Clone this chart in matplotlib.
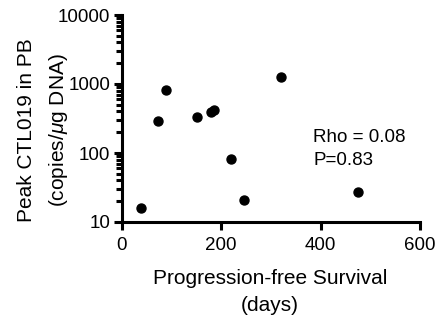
import matplotlib
matplotlib.use('Agg')
import matplotlib.pyplot as plt
from matplotlib.ticker import LogLocator, NullFormatter, FixedLocator

plt.rcParams['font.family'] = ['Liberation Sans', 'DejaVu Sans']
plt.rcParams['mathtext.fontset'] = 'custom'
plt.rcParams['mathtext.it'] = 'Liberation Sans:italic'
plt.rcParams['mathtext.rm'] = 'Liberation Sans'

# progression-free survival (days) vs peak CTL019 (copies/ug DNA)
pfs_days = [40, 74, 90, 152, 179, 186, 321, 221, 247, 476]
peak_ctl019 = [16, 288, 811, 332, 397, 415, 1263, 81, 21, 27.5]

x_ticks = [0, 200, 400, 600]
y_ticks = [10, 100, 1000, 10000]

fig = plt.figure(figsize=(4.44, 3.22), dpi=100)
ax = fig.add_axes([121.5 / 444, 1 - 222 / 322, (420 - 121.5) / 444, (222 - 15) / 322])

ax.scatter(pfs_days, peak_ctl019, s=42, color='black', zorder=3, clip_on=False)

ax.set_yscale('log')
ax.set_xlim(0, 600)
ax.set_ylim(10, 10000)
ax.xaxis.set_major_locator(FixedLocator(x_ticks))
ax.yaxis.set_major_locator(FixedLocator(y_ticks))
ax.set_yticklabels([str(v) for v in y_ticks])
ax.yaxis.set_minor_locator(LogLocator(base=10, subs=range(2, 10)))
ax.yaxis.set_minor_formatter(NullFormatter())

for s in ['top', 'right']:
    ax.spines[s].set_visible(False)
for s in ['left', 'bottom']:
    ax.spines[s].set_linewidth(2.2)

ax.tick_params(axis='both', which='major', length=6, width=2.2, labelsize=13.5)
ax.tick_params(axis='x', which='major', pad=5)
ax.tick_params(axis='y', which='major', pad=2)
ax.tick_params(axis='y', which='minor', length=4, width=2.2)

ax.set_xlabel('Progression-free Survival\n(days)', fontsize=15, linespacing=1.5)
ax.xaxis.set_label_coords(0.4975, -0.228)
ax.set_ylabel('Peak CTL019 in PB\n(copies/$\\mu$g DNA)', fontsize=15, linespacing=1.65)
ax.yaxis.set_label_coords(-0.172, 0.445)

ax.text(0.642, 0.352, 'Rho = 0.08\nP=0.83', transform=ax.transAxes, fontsize=13.5,
        ha='left', va='center', linespacing=1.5)

fig.savefig('out.png', dpi=100)
